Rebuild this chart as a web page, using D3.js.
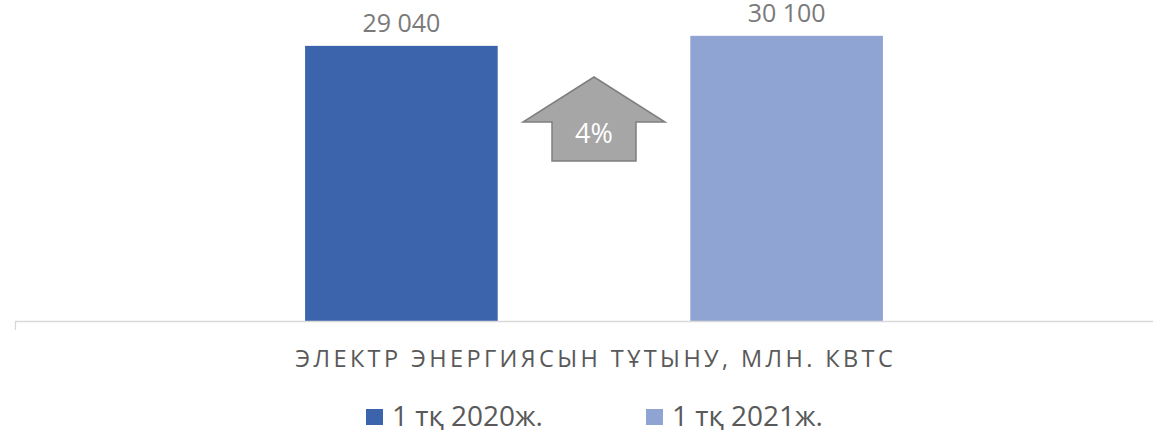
<!DOCTYPE html>
<html>
<head>
<meta charset="utf-8">
<script src="https://cdn.jsdelivr.net/npm/d3@7"></script>
<style>
  html, body { margin: 0; padding: 0; background: #fff; }
  svg { display: block; font-family: 'Open Sans', 'Noto Sans', sans-serif; }
</style>
</head>
<body>
<svg id="chart" width="1153" height="430"></svg>
<script>
const categories = ['ЭЛЕКТР ЭНЕРГИЯСЫН ТҰТЫНУ, МЛН. КВТС'];
const seriesNames = ['1 тқ 2020ж.', '1 тқ 2021ж.'];
const seriesValues = [29040, 30100];
const seriesColors = ['#3B64AD', '#8FA4D3'];

const svg = d3.select('#chart');
const baseY = 321;

const x0 = d3.scaleBand().domain(categories).range([15, 1173]);
const x1 = d3.scaleBand()
  .domain(seriesNames)
  .range([0, x0.bandwidth()])
  .paddingInner(0.5)
  .paddingOuter(0.753);
const y = d3.scaleLinear().domain([0, 35000]).range([baseY, -10.6]);

const fmt = v => d3.format(',')(v).replace(/,/g, ' ');

const bars = seriesNames.map((name, i) => ({ name, value: seriesValues[i], color: seriesColors[i], cat: categories[0] }));

const gBars = svg.append('g');
gBars.selectAll('rect')
  .data(bars)
  .enter()
  .append('rect')
  .attr('x', d => x0(d.cat) + x1(d.name))
  .attr('y', d => y(d.value))
  .attr('width', x1.bandwidth())
  .attr('height', d => baseY - y(d.value))
  .attr('fill', d => d.color);

gBars.selectAll('text')
  .data(bars)
  .enter()
  .append('text')
  .attr('x', d => x0(d.cat) + x1(d.name) + x1.bandwidth() / 2)
  .attr('y', d => y(d.value) - 14)
  .attr('text-anchor', 'middle')
  .attr('font-size', '25px')
  .attr('fill', '#7a7a7a')
  .text(d => fmt(d.value));

// axis with the category name
const axis = svg.append('g')
  .attr('transform', `translate(0,${baseY})`)
  .call(d3.axisBottom(x0).tickSizeInner(0).tickSizeOuter(9).tickPadding(0));
axis.select('.domain').attr('stroke', '#d9d9d9').attr('stroke-width', 1.3);
axis.selectAll('.tick text')
  .attr('y', 45.5)
  .attr('dy', 0)
  .attr('dx', 1.7) // letter-spacing leaves a trailing gap, recentre
  .attr('font-family', "'Open Sans', 'Noto Sans', sans-serif")
  .attr('font-size', '23.5px')
  .attr('fill', '#595959')
  .style('letter-spacing', '3.4px');

// growth arrow between the bars
const growth = (seriesValues[1] - seriesValues[0]) / seriesValues[0];
const cx = x0(categories[0]) + x0.bandwidth() / 2;
const tipY = 77, wingY = 122, bottomY = 161;
const arrow = svg.append('g');
arrow.append('path')
  .attr('d', d3.line()([
    [cx, tipY], [cx + 71, wingY], [cx + 42, wingY], [cx + 42, bottomY],
    [cx - 42, bottomY], [cx - 42, wingY], [cx - 71, wingY]
  ]) + 'Z')
  .attr('fill', '#a6a6a6')
  .attr('stroke', '#7f7f7f')
  .attr('stroke-width', 1.5);
arrow.append('text')
  .attr('x', cx)
  .attr('y', 143)
  .attr('text-anchor', 'middle')
  .attr('font-size', '27px')
  .attr('fill', '#ffffff')
  .text(d3.format('.0%')(growth));

// legend
const legend = svg.append('g')
  .selectAll('g')
  .data(bars)
  .enter()
  .append('g')
  .attr('transform', (d, i) => `translate(${366 + i * 280},409)`);
legend.append('rect')
  .attr('width', 17)
  .attr('height', 16)
  .attr('fill', d => d.color);
legend.append('text')
  .attr('x', 26)
  .attr('y', 16.5)
  .attr('font-size', '28px')
  .attr('fill', '#595959')
  .text(d => d.name);
</script>
</body>
</html>
